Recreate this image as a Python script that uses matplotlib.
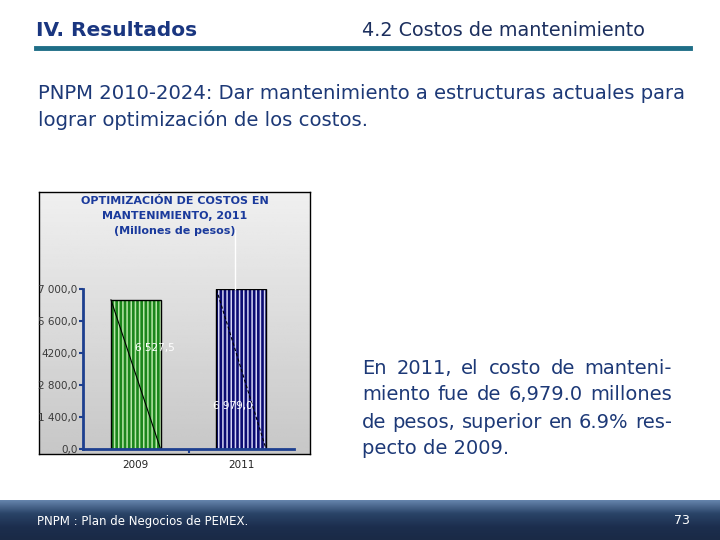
import matplotlib.pyplot as plt
import numpy as np
from matplotlib.colors import LinearSegmentedColormap

# Datos de la grafica
years = ['2009', '2011']
costs = [6527.5, 6979.0]
cost_labels = ['6 527,5', '6 979,0']
ytick_vals = [0, 1400, 2800, 4200, 5600, 7000]
ytick_labels = ['0,0', '1 400,0', '2 800,0', '4200,0', '5 600,0', '7 000,0']
bar_colors = ['#1b861b', '#0b0b72']
stripe_colors = ['#b8e6a8', '#d4d4f4']

chart_title = 'OPTIMIZACIÓN DE COSTOS EN\nMANTENIMIENTO, 2011\n(Millones de pesos)'
header_left = 'IV. Resultados'
header_right = '4.2 Costos de mantenimiento'
intro_lines = ['PNPM 2010-2024: Dar mantenimiento a estructuras actuales para',
               'lograr optimización de los costos.']
side_lines = ['En 2011, el costo de manteni-',
              'miento fue de 6,979.0 millones',
              'de pesos, superior en 6.9% res-',
              'pecto de 2009.']
footer_text = 'PNPM : Plan de Negocios de PEMEX.'
page_num = '73'

W, H = 720, 540
navy = '#1d3977'

def fx(x):
    return x / W

def fy(y):
    return 1 - y / H

fig = plt.figure(figsize=(7.2, 5.4), dpi=100)

# Encabezado
fig.text(fx(36), fy(30), header_left, fontsize=14.5, fontweight='bold',
         color='#1a3680', va='center', ha='left')
fig.text(fx(362), fy(30), header_right, fontsize=13.8, color='#1c2f5e', va='center', ha='left')
fig.add_artist(plt.Line2D([fx(36), fx(690)], [fy(48), fy(48)], color='#1f6e87', lw=3.5))

# Texto introductorio
for i, line in enumerate(intro_lines):
    fig.text(fx(38), fy(93 + 27 * i), line, fontsize=14.1, color=navy, va='center')

# Texto lateral justificado
def justified(lines, x0, x1, y0, dy, **kw):
    renderer = fig.canvas.get_renderer()
    for i, line in enumerate(lines):
        yy = fy(y0 + dy * i)
        words = line.split()
        if i == len(lines) - 1 or len(words) == 1:
            fig.text(fx(x0), yy, line, va='center', **kw)
            continue
        texts = [fig.text(0, yy, w, va='center', **kw) for w in words]
        widths = [t.get_window_extent(renderer).width for t in texts]
        gap = (x1 - x0 - sum(widths)) / (len(words) - 1)
        x = x0
        for t, w in zip(texts, widths):
            t.set_x(fx(x))
            x += w + gap

justified(side_lines, 362, 672, 368, 27, fontsize=14, color=navy)

# Panel gris con degradado
panel = fig.add_axes([fx(39), fy(454), fx(310 - 39), (454 - 192) / H])
grad = np.linspace(0.94, 0.78, 100).reshape(-1, 1)
panel.imshow(grad, cmap='gray', vmin=0, vmax=1, aspect='auto', extent=[0, 1, 0, 1])
panel.set_xticks([])
panel.set_yticks([])
for s in panel.spines.values():
    s.set_color('black')
    s.set_linewidth(1)
panel.text(0.5, 0.985, chart_title, transform=panel.transAxes, ha='center', va='top',
           fontsize=8.0, fontweight='bold', color='#1a3a9c', linespacing=1.62)

# Grafica de barras
ax = fig.add_axes([fx(83), fy(449), fx(294 - 83), (449 - 289) / H])
ax.set_facecolor('none')
pos = np.arange(len(years))
bw = 0.47
plt.rcParams['hatch.linewidth'] = 1.1
for p, v, c, sc in zip(pos, costs, bar_colors, stripe_colors):
    ax.bar(p, v, width=bw, color=c, edgecolor=sc, hatch='||||', linewidth=0)
ax.bar(pos, costs, width=bw, fill=False, edgecolor='black', linewidth=1)
for p, v, ls in zip(pos, costs, ['-', (0, (3, 2))]):
    ax.plot([p - bw / 2, p + bw / 2], [v, 0], color='black', lw=0.8, ls=ls)
ax.plot([0.94, 0.94], [costs[1], 9580], color='white', lw=1, clip_on=False)

label_pos = [(0.18, 0.68), (0.92, 0.27)]
for (lx, fr), v, lab in zip(label_pos, costs, cost_labels):
    ax.text(lx, v * fr, lab, ha='center', va='center', color='white', fontsize=7.5)

ax.set_xlim(-0.5, 1.5)
ax.set_ylim(0, 7000)
ax.set_yticks(ytick_vals)
ax.set_yticklabels(ytick_labels, fontsize=7.5, color='#3a3a3a')
ax.set_xticks(pos)
ax.set_xticklabels(years, fontsize=7.5, color='#222222')
ax.set_xticks([0.5], minor=True)
ax.tick_params(axis='x', which='major', length=0, pad=8)
ax.tick_params(axis='x', which='minor', length=3, width=1.5, color='#1d3f8f', direction='out')
ax.tick_params(axis='y', length=3, width=1.5, color='#1d3f8f', pad=1)
for s in ['top', 'right']:
    ax.spines[s].set_visible(False)
for s in ['left', 'bottom']:
    ax.spines[s].set_color('#1d3f8f')
    ax.spines[s].set_linewidth(2)

# Pie de pagina con degradado
foot = fig.add_axes([0, 0, 1, 40 / H])
fcmap = LinearSegmentedColormap.from_list('foot', ['#1a2a46', '#1c2e4e', '#2a4468', '#6584ac'])
foot.imshow(np.linspace(0, 1, 100).reshape(-1, 1), cmap=fcmap, aspect='auto',
            origin='lower', extent=[0, 1, 0, 1])
foot.axis('off')
fig.text(fx(37), fy(521), footer_text, fontsize=8.5, color='white', va='center')
fig.text(fx(690), fy(521), page_num, fontsize=9, color='white', va='center', ha='right')

fig.savefig('out.png', dpi=100)
